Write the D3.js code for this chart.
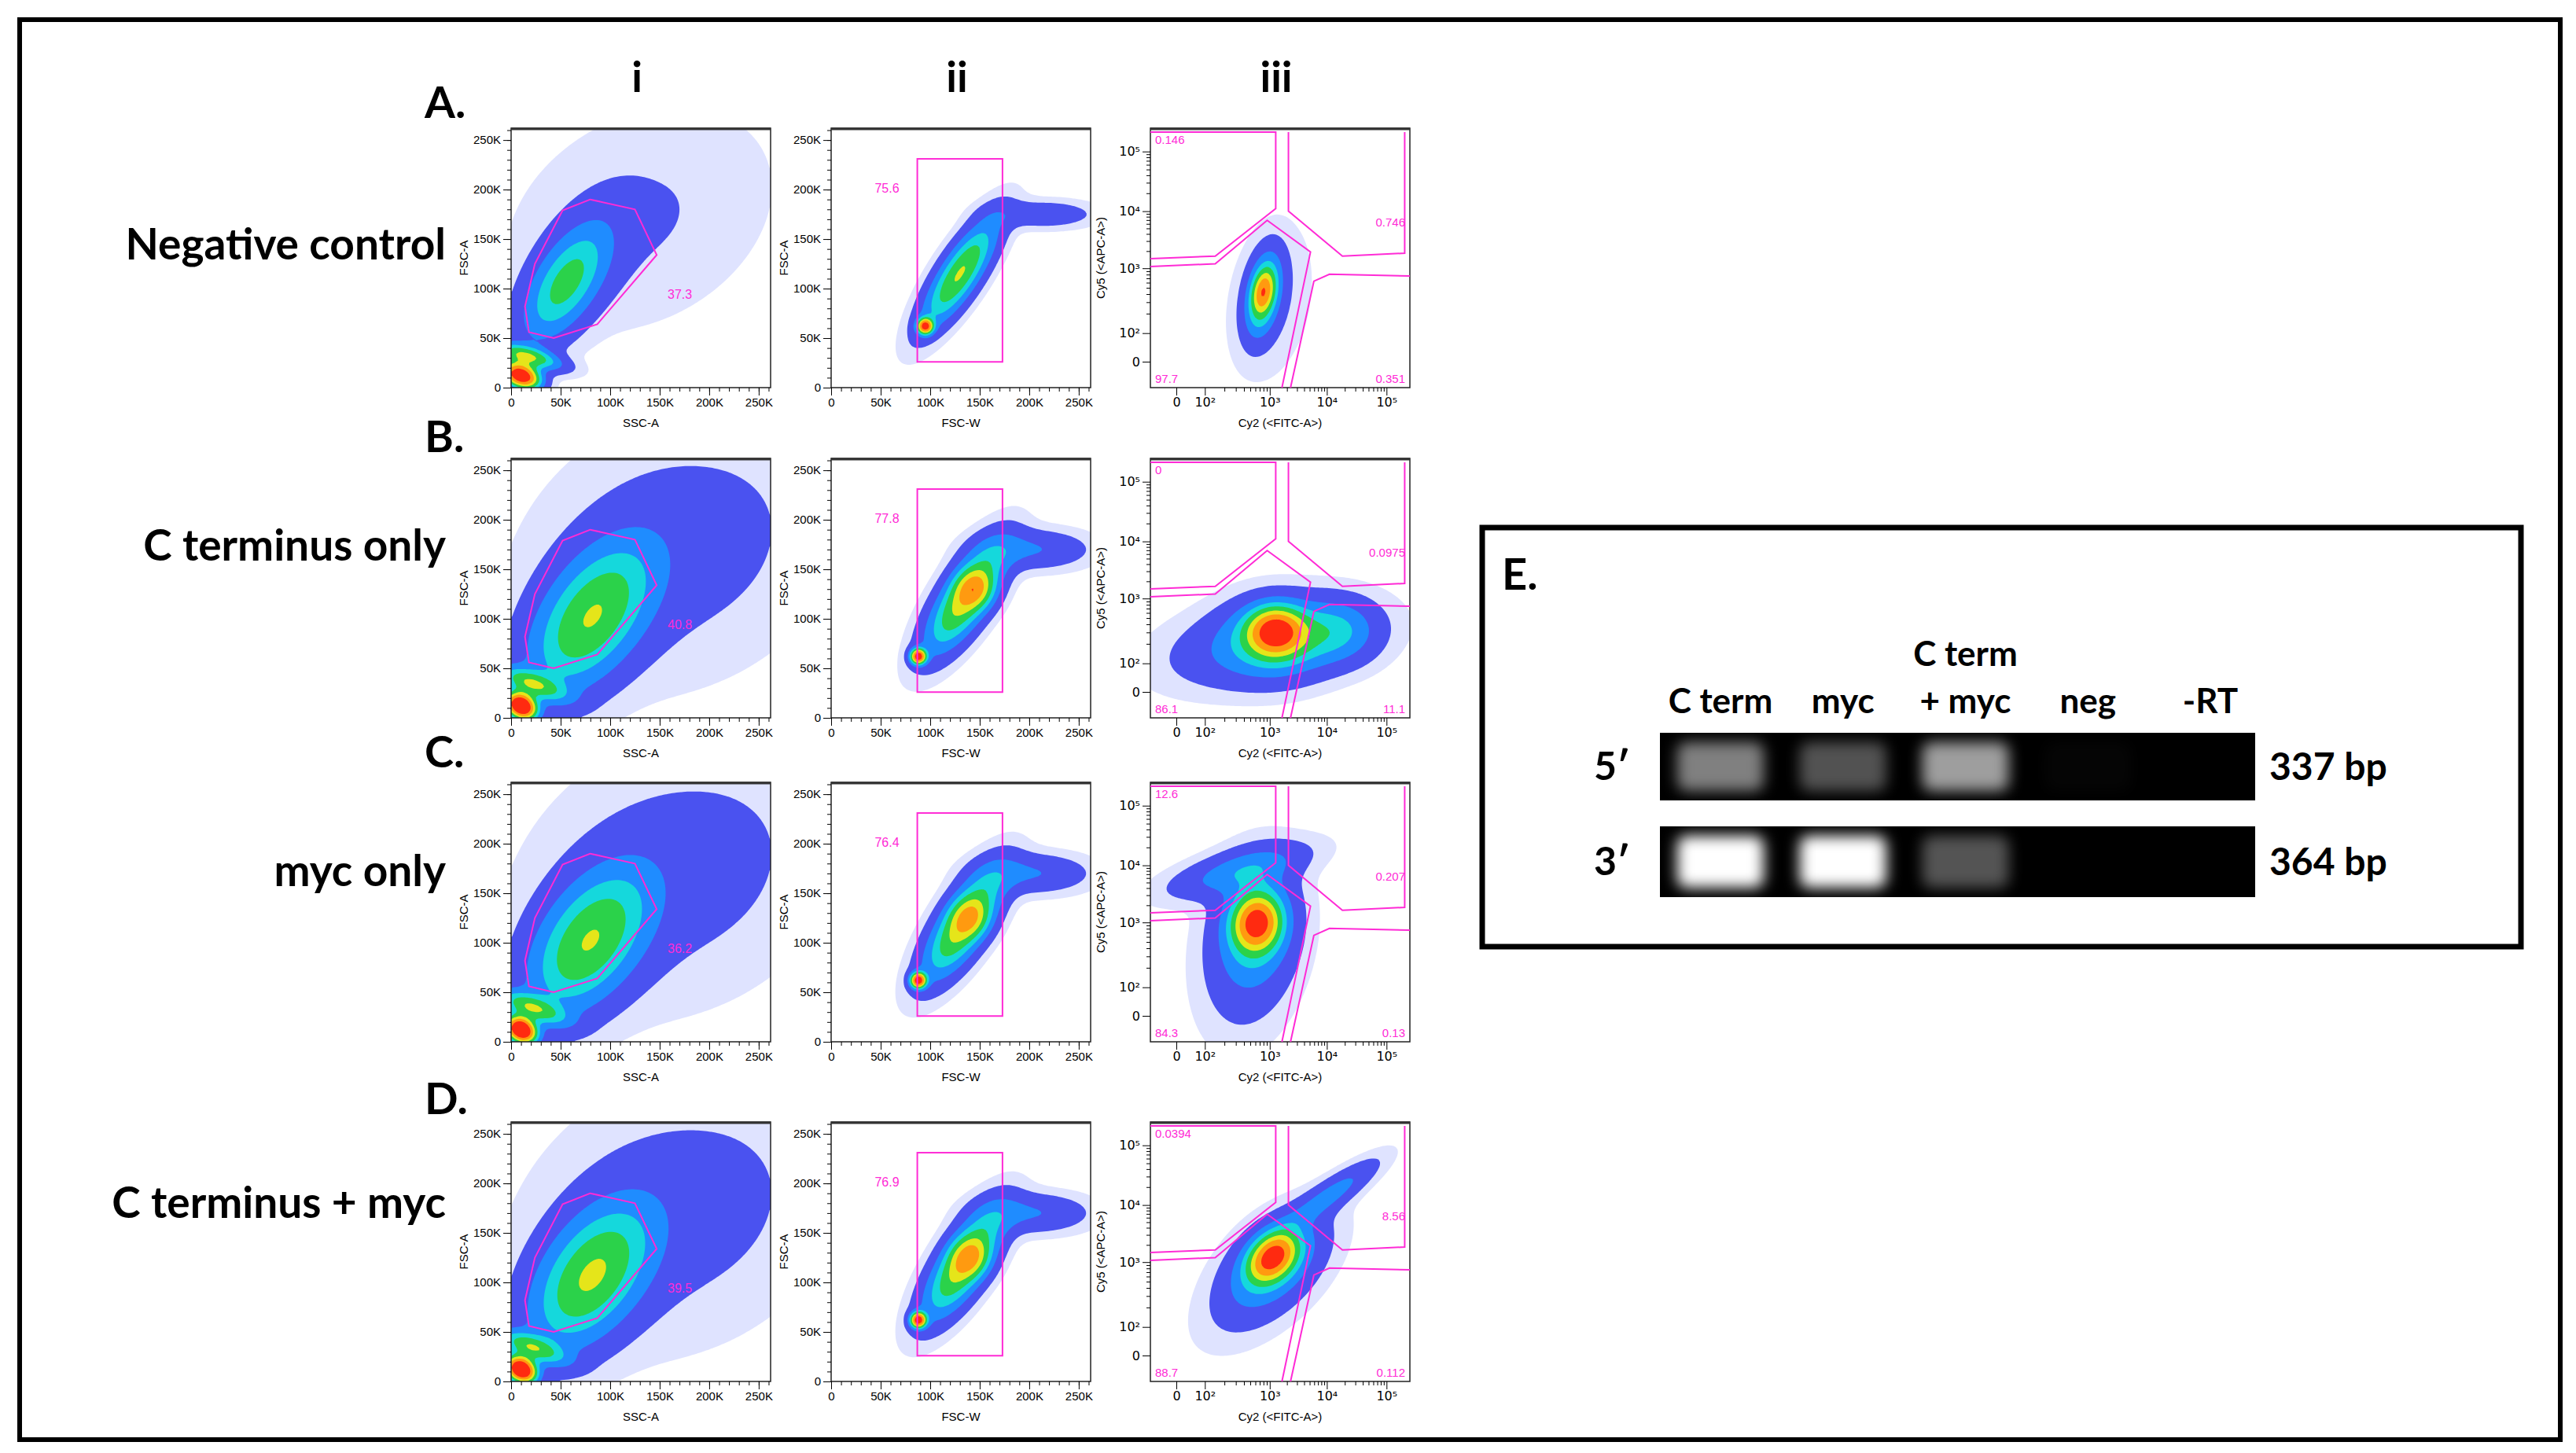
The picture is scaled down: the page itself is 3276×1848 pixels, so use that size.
<!DOCTYPE html>
<html><head><meta charset="utf-8">
<script src="https://cdn.jsdelivr.net/npm/d3@7"></script>
<style>body{margin:0;background:#fff}</style>
</head><body><div id="app"></div>
<script>
// ---- data ----
var rowLetters = ["A.", "B.", "C.", "D."];
var rowNames = ["Negative control", "C terminus only", "myc only", "C terminus + myc"];
var colNames = ["i", "ii", "iii"];
var linTicks = [0, 50, 100, 150, 200, 250];
var logTicks = [0, 2, 3, 4, 5];
var logTickLabels = ["0", "10\u00b2", "10\u00b3", "10\u2074", "10\u2075"];

// density blobs: [cx, cy, sdMajor, sdMinor (fraction of frame), angle deg, weight]
var blobsI = [
  [[55,105,.17,.08,58,.62],[10,12,.03,.05,70,1.6],[16,32,.025,.09,75,.7],[130,170,.35,.25,30,.1]],
  [[80,100,.22,.12,55,.72],[10,12,.03,.04,60,1.8],[20,35,.03,.09,70,.6],[170,170,.4,.3,30,.14]],
  [[78,100,.21,.12,55,.72],[10,12,.03,.04,60,1.8],[20,35,.03,.09,70,.6],[170,170,.4,.3,30,.14]],
  [[80,105,.21,.12,55,.74],[10,12,.03,.04,60,1.8],[20,35,.03,.09,70,.6],[170,170,.4,.3,30,.14]]
];
var blobsII = [
  [[130,115,.16,.05,57,.8],[95,62,.02,.02,0,1.3],[215,175,.13,.035,0,.2]],
  [[135,120,.16,.06,57,.85],[145,130,.05,.05,0,.45],[88,62,.02,.02,0,1.4],[205,170,.14,.05,0,.25]],
  [[133,118,.16,.06,57,.85],[140,125,.05,.05,0,.35],[88,62,.02,.02,0,1.4],[205,170,.14,.05,0,.25]],
  [[133,118,.16,.06,57,.85],[140,125,.05,.05,0,.4],[88,62,.02,.02,0,1.4],[205,170,.14,.05,0,.25]]
];
var blobsIII = [
  [[2.9,2.6,.1,.04,80,.75],[2.9,2.65,.05,.025,80,.45],[3.0,2.5,.2,.1,80,.1]],
  [[3.1,2.5,.07,.06,0,1.0],[3.1,2.4,.13,.1,0,.35],[3.0,2.3,.25,.1,10,.3],[4.2,2.5,.1,.08,0,.3]],
  [[2.8,3.0,.07,.06,80,1.0],[2.8,2.9,.14,.09,80,.35],[2.7,2.6,.22,.12,80,.2],[2.5,3.9,.18,.05,15,.3]],
  [[3.05,3.1,.07,.05,45,1.0],[3.05,3.0,.13,.08,45,.35],[3.0,2.8,.2,.1,45,.2],[4.1,4.2,.14,.035,35,.3]]
];
// gates
var gateI = [[80,190],[52,179],[24,125],[14,82],[18,56],[43,50],[87,64],[147,134],[125,180]];
var gateII = [87, 173, 26, 231]; // x0, x1, y0, y1 (K)
var gateIIILabels = [
  ["0.146","0.746","97.7","0.351"],
  ["0","0.0975","86.1","11.1"],
  ["12.6","0.207","84.3","0.13"],
  ["0.0394","8.56","88.7","0.112"]
];
var gateILabels = ["37.3", "40.8", "36.2", "39.5"];
var gateIILabels = ["75.6", "77.8", "76.4", "76.9"];
// quadrant gates in frame fractions
var quadGates = [
  [[0,.985],[.483,.985],[.483,.69],[.25,.507],[0,.497]],
  [[.532,.985],[.532,.68],[.74,.507],[.98,.518],[.98,.985]],
  [[0,.467],[.25,.477],[.45,.645],[.617,.523],[.507,0]],
  [[.54,0],[.63,.41],[.69,.437],[1,.43]]
];
// gel
var lanes = ["C term", "myc", "+ myc", "neg", "-RT"];
var band5 = [0.5, 0.32, 0.62, 0.02, 0];
var band3 = [1, 1, 0.33, 0, 0];

// ---- layout ----
var W = 3276, H = 1848, S = 330;
var rowY = [163, 583, 995, 1427], colX = [650, 1057, 1463];
var magenta = "#ff2bd6";
var svg = d3.select("#app").append("svg").attr("width", W).attr("height", H)
  .style("font-family", "Lato, sans-serif");
svg.append("rect").attr("x", 25).attr("y", 25).attr("width", 3231).attr("height", 1806)
  .attr("fill", "none").attr("stroke", "#000").attr("stroke-width", 6);

var defs = svg.append("defs");
defs.append("filter").attr("id", "blur").attr("x", "-50%").attr("y", "-50%").attr("width", "200%").attr("height", "200%")
  .append("feGaussianBlur").attr("stdDeviation", 9);

colNames.forEach(function (c, i) {
  svg.append("text").attr("x", colX[i] + 160).attr("y", 117).attr("text-anchor", "middle")
    .attr("font-weight", "bold").attr("font-size", 54).text(c);
});
var letterY = [150, 575, 976, 1417], nameY = [330, 713, 1127, 1549];
rowLetters.forEach(function (l, r) {
  svg.append("text").attr("x", 540).attr("y", letterY[r]).attr("font-weight", "bold").attr("font-size", 56).text(l);
  svg.append("text").attr("x", 567).attr("y", nameY[r]).attr("text-anchor", "end")
    .attr("font-weight", "bold").attr("font-size", 55).text(rowNames[r]);
});

var levels = [0.03, 0.09, 0.25, 0.42, 0.58, 0.78, 0.98, 1.25];
var levelColors = ["#dfe3ff", "#4a52f0", "#1f8cff", "#15d8dc", "#2bd24a", "#e5e51a", "#ff9a10", "#ff2a10"];
var N = 120;

function density(blobs, fx, fy) {
  var vals = new Array(N * N);
  for (var j = 0; j < N; j++) for (var i = 0; i < N; i++) {
    var x = (i + .5) / N, y = 1 - (j + .5) / N, s = 0;
    blobs.forEach(function (b) {
      var a = b[4] * Math.PI / 180, dx = x - fx(b[0]), dy = y - fy(b[1]);
      var u = dx * Math.cos(a) + dy * Math.sin(a), v = -dx * Math.sin(a) + dy * Math.cos(a);
      s += b[5] * Math.exp(-0.5 * (u * u / (b[2] * b[2]) + v * v / (b[3] * b[3])));
    });
    vals[j * N + i] = s;
  }
  return vals;
}

function drawPlot(g, blobs, fx, fy) {
  var vals = density(blobs, fx, fy);
  var cs = d3.contours().size([N, N]).thresholds(levels)(vals);
  var path = d3.geoPath(d3.geoIdentity().scale(S / N));
  g.append("g").selectAll("path").data(cs).enter().append("path")
    .attr("d", path).attr("fill", function (d, k) { return levelColors[k]; });
  g.append("rect").attr("width", S).attr("height", S).attr("fill", "none").attr("stroke", "#222").attr("stroke-width", 1.5);
  g.append("line").attr("x1", 0).attr("x2", S).attr("y1", 1).attr("y2", 1).attr("stroke", "#333").attr("stroke-width", 3);
}

function linAxes(g, xl, yl) {
  var x = d3.scaleLinear().domain([0, 262]).range([0, S]);
  var y = d3.scaleLinear().domain([0, 262]).range([S, 0]);
  var fmt = function (d) { return d === 0 ? "0" : d + "K"; };
  var minor = d3.range(0, 261, 10);
  g.append("g").attr("transform", "translate(0," + S + ")").call(d3.axisBottom(x).tickValues(minor).tickSize(5).tickFormat(""));
  g.append("g").call(d3.axisLeft(y).tickValues(minor).tickSize(5).tickFormat(""));
  g.append("g").attr("transform", "translate(0," + S + ")").call(d3.axisBottom(x).tickValues(linTicks).tickSize(10).tickFormat(fmt));
  g.append("g").call(d3.axisLeft(y).tickValues(linTicks).tickSize(10).tickFormat(fmt));
  g.selectAll(".tick text").attr("font-size", 15).attr("font-family", "Liberation Sans");
  g.selectAll(".domain").remove();
  g.append("text").attr("x", S / 2).attr("y", S + 50).attr("text-anchor", "middle").attr("font-size", 15).attr("font-family", "Liberation Sans").text(xl);
  g.append("text").attr("transform", "translate(-55," + (S / 2) + ") rotate(-90)").attr("text-anchor", "middle").attr("font-size", 15).attr("font-family", "Liberation Sans").text(yl);
  return [x, y];
}

var logFrac = d3.scaleLinear().domain([-1, 0, 2, 3, 4, 5, 5.4]).range([0, .10, .21, .46, .68, .91, 1]);
function logAxes(g) {
  var x = logFrac.copy().range(logFrac.range().map(function (v) { return v * S; }));
  var y = logFrac.copy().range(logFrac.range().map(function (v) { return S - v * S; }));
  var minor = [];
  [2, 3, 4].forEach(function (d) { for (var k = 2; k < 10; k++) minor.push(d + Math.log10(k)); });
  g.append("g").attr("transform", "translate(0," + S + ")").call(d3.axisBottom(x).tickValues(minor).tickSize(5).tickFormat(""));
  g.append("g").call(d3.axisLeft(y).tickValues(minor).tickSize(5).tickFormat(""));
  var f = function (d, i) { return logTickLabels[i]; };
  g.append("g").attr("transform", "translate(0," + S + ")").call(d3.axisBottom(x).tickValues(logTicks).tickSize(10).tickFormat(f));
  g.append("g").call(d3.axisLeft(y).tickValues(logTicks).tickSize(10).tickFormat(f));
  g.selectAll(".tick text").attr("font-size", 16).attr("font-family", "DejaVu Sans");
  g.selectAll(".domain").remove();
  g.append("text").attr("x", S / 2).attr("y", S + 50).attr("text-anchor", "middle").attr("font-size", 15).attr("font-family", "Liberation Sans").text("Cy2 (<FITC-A>)");
  g.append("text").attr("transform", "translate(-58," + (S / 2) + ") rotate(-90)").attr("text-anchor", "middle").attr("font-size", 15).attr("font-family", "Liberation Sans").text("Cy5 (<APC-A>)");
}

var linF = d3.scaleLinear().domain([0, 262]).range([0, 1]);
var gateLine = function (sx, sy) { return d3.line().x(function (d) { return sx(d[0]); }).y(function (d) { return sy(d[1]); }); };

rowY.forEach(function (y0, r) {
  // i
  var g = svg.append("g").attr("transform", "translate(" + colX[0] + "," + y0 + ")");
  drawPlot(g, blobsI[r], linF, linF);
  var s = linAxes(g, "SSC-A", "FSC-A");
  g.append("path").attr("d", gateLine(s[0], s[1]).curve(d3.curveLinearClosed)(gateI))
    .attr("fill", "none").attr("stroke", magenta).attr("stroke-width", 2);
  g.append("text").attr("x", s[0](158)).attr("y", s[1](90)).attr("fill", magenta).attr("font-size", 16).attr("font-family", "Liberation Sans").text(gateILabels[r]);
  // ii
  g = svg.append("g").attr("transform", "translate(" + colX[1] + "," + y0 + ")");
  drawPlot(g, blobsII[r], linF, linF);
  s = linAxes(g, "FSC-W", "FSC-A");
  g.append("rect").attr("x", s[0](gateII[0])).attr("y", s[1](gateII[3]))
    .attr("width", s[0](gateII[1]) - s[0](gateII[0])).attr("height", s[1](gateII[2]) - s[1](gateII[3]))
    .attr("fill", "none").attr("stroke", magenta).attr("stroke-width", 2);
  g.append("text").attr("x", s[0](44)).attr("y", s[1](197)).attr("fill", magenta).attr("font-size", 16).attr("font-family", "Liberation Sans").text(gateIILabels[r]);
  // iii
  g = svg.append("g").attr("transform", "translate(" + colX[2] + "," + y0 + ")");
  drawPlot(g, blobsIII[r], logFrac, logFrac);
  logAxes(g);
  var fx = d3.scaleLinear().range([0, S]), fy = d3.scaleLinear().range([S, 0]);
  quadGates.forEach(function (q) {
    g.append("path").attr("d", gateLine(fx, fy)(q)).attr("fill", "none").attr("stroke", magenta).attr("stroke-width", 2);
  });
  var L = gateIIILabels[r];
  var lt = function (t, x, y, anchor) {
    g.append("text").attr("x", x).attr("y", y).attr("text-anchor", anchor).attr("fill", magenta)
      .attr("font-size", 15).attr("font-family", "Liberation Sans").text(t);
  };
  lt(L[0], 6, 20, "start"); lt(L[1], S - 6, fy(.62), "end"); lt(L[2], 6, S - 6, "start"); lt(L[3], S - 6, S - 6, "end");
});

// ---- panel E ----
svg.append("rect").attr("x", 1885).attr("y", 671).attr("width", 1321).attr("height", 533)
  .attr("fill", "none").attr("stroke", "#000").attr("stroke-width", 7);
svg.append("text").attr("x", 1910).attr("y", 750).attr("font-weight", "bold").attr("font-size", 56).text("E.");
var laneX = d3.scalePoint().domain(lanes).range([2188, 2811]);
var gelX0 = 2111, gelW = 757;
svg.append("text").attr("x", laneX("+ myc")).attr("y", 847).attr("text-anchor", "middle").attr("font-weight", "bold").attr("font-size", 44).text("C term");
lanes.forEach(function (l) {
  svg.append("text").attr("x", laneX(l)).attr("y", 907).attr("text-anchor", "middle").attr("font-weight", "bold").attr("font-size", 44).text(l);
});
var gels = [{y: 932, h: 86, bands: band5, label: "5\u2032", bp: "337 bp"},
            {y: 1051, h: 90, bands: band3, label: "3\u2032", bp: "364 bp"}];
var bandOpacity = d3.scaleLinear().domain([0, 1]).range([0, 1]);
gels.forEach(function (gl) {
  svg.append("rect").attr("x", gelX0).attr("y", gl.y).attr("width", gelW).attr("height", gl.h).attr("fill", "#000");
  var cp = defs.append("clipPath").attr("id", "clip" + gl.y);
  cp.append("rect").attr("x", gelX0).attr("y", gl.y).attr("width", gelW).attr("height", gl.h);
  svg.append("g").attr("clip-path", "url(#clip" + gl.y + ")").selectAll("rect").data(gl.bands).enter().append("rect")
    .attr("x", function (d, i) { return laneX(lanes[i]) - 55; })
    .attr("y", gl.y + 12).attr("width", 110).attr("height", gl.h - 24).attr("rx", 12)
    .attr("fill", "#fff").attr("opacity", function (d) { return bandOpacity(d); })
    .attr("filter", "url(#blur)");
  svg.append("text").attr("x", 2050).attr("y", gl.y + gl.h / 2 + 17).attr("text-anchor", "middle").attr("font-weight", "bold").attr("font-size", 50).text(gl.label);
  svg.append("text").attr("x", 2886).attr("y", gl.y + gl.h / 2 + 17).attr("font-weight", "bold").attr("font-size", 48).text(gl.bp);
});
</script></body></html>
